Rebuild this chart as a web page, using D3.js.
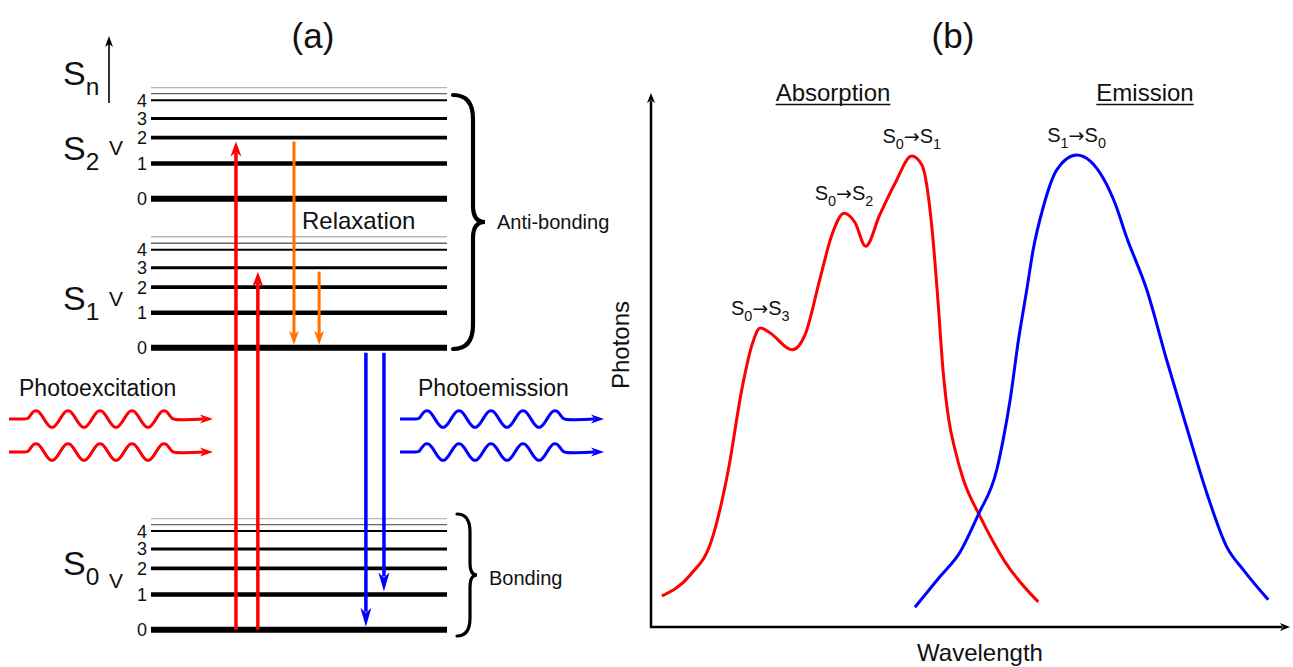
<!DOCTYPE html>
<html>
<head>
<meta charset="utf-8">
<script src="https://cdn.jsdelivr.net/npm/d3@7"></script>
<style>
body { margin: 0; background: #fff; }
text { font-family: "Liberation Sans", Arial, sans-serif; fill: #111; }
</style>
</head>
<body>
<script>
const width = 1293;
const height = 667;

// ---- panel (a): energy levels, arbitrary units (v = 0..4, then two faint higher levels)
const vibNumbers = [0, 1, 2, 3, 4];
const s0Levels = [0, 6.5, 11.3, 14.9, 18.2, 19.4, 20.5];
const s1Levels = [52.0, 58.5, 63.2, 66.8, 70.1, 71.3, 72.5];
const s2Levels = [79.5, 86.0, 90.8, 94.3, 97.7, 98.9, 100.0];
const stateSubs = ["0", "1", "2"];

// transitions: kind, horizontal position (0-100), from state, from v, to state, to v
const transitions = [
    ["absorb", 28.7, 0, 0, 2, 2],
    ["absorb", 36.1, 0, 0, 1, 3],
    ["relax", 48.3, 2, 2, 1, 0],
    ["relax", 56.8, 1, 3, 1, 0],
    ["emit", 72.6, 1, 0, 0, 0],
    ["emit", 78.7, 1, 0, 0, 1]
];

// ---- panel (b): spectra, wavelength and photons in arbitrary units 0-100
const absWavelength = [1.7, 6.1, 9.5, 12.1, 14.2, 15.8, 17.1, 18.6, 22.1, 24.1, 26.4, 28.3, 30.2, 31.9, 33.6, 35.8, 38.2, 40.8, 42.4, 44.0, 44.9, 45.7, 46.6, 47.6, 48.8, 51.5, 55.4, 60.6];
const absPhotons = [5.8, 9.7, 16.3, 29.4, 44.4, 52.8, 56.0, 55.1, 51.9, 54.7, 65.0, 73.4, 77.5, 75.8, 71.3, 77.2, 83.1, 88.2, 86.5, 74.3, 61.2, 48.1, 38.8, 33.1, 27.9, 20.7, 12.2, 4.7];
const emWavelength = [41.3, 45.2, 48.4, 51.2, 54.1, 55.1, 56.2, 57.5, 58.8, 59.8, 61.4, 63.5, 66.6, 68.7, 70.8, 72.6, 74.4, 77.6, 80.7, 83.8, 87.0, 90.1, 92.7, 96.6];
const emPhotons = [3.7, 9.4, 14.1, 21.0, 29.4, 35.0, 42.5, 53.7, 63.1, 70.6, 78.7, 85.6, 88.4, 87.3, 84.0, 79.4, 73.1, 63.1, 50.0, 37.5, 25.0, 15.0, 10.7, 5.1];

// peak labels: wavelength, photons, from state, to state
const peakLabels = [
    [17.1, 56.0, "0", "3"],
    [30.2, 77.5, "0", "2"],
    [40.8, 88.2, "0", "1"],
    [66.6, 88.4, "1", "0"]
];

const colors = { absorb: "#ff0000", relax: "#ff7000", emit: "#0000ff" };

const svg = d3.select("body").append("svg")
    .attr("width", width)
    .attr("height", height);

function arrowHead(g, x, y, angle, len, wid, color) {
    g.append("path")
        .attr("d", `M0,0L${-wid / 2},${-len}L0,${-len * 0.72}L${wid / 2},${-len}Z`)
        .attr("transform", `translate(${x},${y}) rotate(${angle})`)
        .style("fill", color);
}

// parts: [text, kind] with kind 0 = normal, 1 = subscript, 2 = arrow glyph
function subText(g, x, y, size, parts, anchor) {
    const t = g.append("text")
        .attr("x", x)
        .attr("y", y)
        .attr("text-anchor", anchor || "start")
        .style("font-size", size + "px");
    let shifted = false;
    parts.forEach(([s, kind]) => {
        const ts = t.append("tspan").text(s);
        if (kind === 1) {
            ts.attr("dy", size * 0.3).style("font-size", (size * 0.72) + "px");
            shifted = true;
        } else {
            if (shifted) { ts.attr("dy", -size * 0.3); shifted = false; }
            if (kind === 2) ts.style("font-family", "'DejaVu Sans'").style("font-size", (size * 0.95) + "px");
        }
    });
    return t;
}

// ================= panel (a) =================
const levels = [s0Levels, s1Levels, s2Levels];
const yE = d3.scaleLinear().domain([0, 100]).range([629.7, 87.7]);
const xA = d3.scaleLinear().domain([0, 100]).range([151, 447]);
const lineW = [6, 4.5, 3.7, 3, 2, 1.3, 1.3];
const lineC = ["#000", "#000", "#000", "#000", "#000", "#666", "#b8b8b8"];

const gA = svg.append("g");

gA.append("text")
    .attr("x", 313).attr("y", 48)
    .attr("text-anchor", "middle")
    .style("font-size", "35px")
    .text("(a)");

levels.forEach((lv, si) => {
    gA.selectAll(null)
        .data(lv)
        .enter().append("line")
        .attr("x1", xA(0)).attr("x2", xA(100))
        .attr("y1", d => yE(d)).attr("y2", d => yE(d))
        .style("stroke", (d, i) => lineC[i])
        .style("stroke-width", (d, i) => lineW[i]);

    gA.selectAll(null)
        .data(vibNumbers)
        .enter().append("text")
        .attr("x", xA(0) - 4)
        .attr("y", v => yE(lv[v]) + 6.5)
        .attr("text-anchor", "end")
        .style("font-size", "18px")
        .text(v => v);
});

// state labels S0, S1, S2 and the "V" marks
const stateLabelY = [575, 310, 160];
const vLabelY = [588, 306, 155];
stateSubs.forEach((s, i) => {
    subText(gA, 63, stateLabelY[i], 34, [["S", 0], [s, 1]]);
    gA.append("text")
        .attr("x", 109).attr("y", vLabelY[i])
        .style("font-size", "21px")
        .text("V");
});
subText(gA, 63, 85, 34, [["S", 0], ["n", 1]]);
gA.append("line")
    .attr("x1", 109).attr("x2", 109)
    .attr("y1", 103).attr("y2", 44)
    .style("stroke", "#000").style("stroke-width", 1.6);
arrowHead(gA, 109, 36, 180, 11, 8, "#000");

// vertical transition arrows
transitions.forEach(([kind, pos, fs, fv, ts, tv]) => {
    const x = xA(pos);
    const yFrom = yE(levels[fs][fv]);
    const yTo = yE(levels[ts][tv]);
    const up = yTo < yFrom;
    const len = kind === "emit" ? 19 : (kind === "relax" ? 14 : 15);
    const wid = kind === "relax" ? 10 : 11;
    const sw = kind === "relax" ? 3 : 3.5;
    const y1 = up ? yFrom : yFrom + (kind === "emit" ? 5 : 4);
    const tip = up ? yTo + 4 : yTo - 3;
    const dir = up ? -1 : 1;
    gA.append("line")
        .attr("x1", x).attr("x2", x)
        .attr("y1", y1).attr("y2", tip - dir * (len - 4))
        .style("stroke", colors[kind])
        .style("stroke-width", sw);
    arrowHead(gA, x, tip, up ? 180 : 0, len, wid, colors[kind]);
});

gA.append("text")
    .attr("x", 302).attr("y", 229)
    .style("font-size", "24px")
    .text("Relaxation");

// braces
function bracePath(x, y1, y2, a, w, r, rm) {
    const ym = (y1 + y2) / 2;
    return `M${x},${y1}Q${x + a},${y1} ${x + a},${y1 + r}` +
        `L${x + a},${ym - rm}Q${x + a},${ym} ${x + w},${ym}` +
        `Q${x + a},${ym} ${x + a},${ym + rm}` +
        `L${x + a},${y2 - r}Q${x + a},${y2} ${x},${y2}`;
}
gA.append("path")
    .attr("d", bracePath(453, 95, 349, 20, 32, 24, 16))
    .style("fill", "none").style("stroke", "#000")
    .style("stroke-width", 4.2).style("stroke-linecap", "round");
gA.append("path")
    .attr("d", bracePath(457, 514, 636, 13, 20, 18, 12))
    .style("fill", "none").style("stroke", "#000")
    .style("stroke-width", 3.2).style("stroke-linecap", "round");
gA.append("text")
    .attr("x", 497).attr("y", 229)
    .style("font-size", "20px")
    .text("Anti-bonding");
gA.append("text")
    .attr("x", 489).attr("y", 585)
    .style("font-size", "20px")
    .text("Bonding");

// wavy photons
function wave(g, x0, y, x1, color) {
    const P = 32, A = 8.5, xs = x0 + 19;
    const pts = [[x0, y], [xs - 4, y]];
    for (let t = 0; t <= 4.5 * P; t += 2) pts.push([xs + t, y - A * Math.sin(2 * Math.PI * t / P)]);
    pts.push([xs + 4.5 * P + 6, y + 1], [x1 - 10, y]);
    g.append("path")
        .attr("d", d3.line().curve(d3.curveBasis)(pts))
        .style("fill", "none")
        .style("stroke", color)
        .style("stroke-width", 3);
    arrowHead(g, x1, y, -90, 13, 9, color);
}
[419, 452].forEach(y => {
    wave(gA, 9, y, 213, colors.absorb);
    wave(gA, 400, y, 604, colors.emit);
});
gA.append("text")
    .attr("x", 19).attr("y", 396)
    .style("font-size", "23px")
    .text("Photoexcitation");
gA.append("text")
    .attr("x", 418).attr("y", 396)
    .style("font-size", "23px")
    .text("Photoemission");

// ================= panel (b) =================
const gB = svg.append("g");
const x = d3.scaleLinear().domain([0, 100]).range([651, 1290]);
const y = d3.scaleLinear().domain([0, 100]).range([627, 93]);

gB.append("text")
    .attr("x", 953).attr("y", 48)
    .attr("text-anchor", "middle")
    .style("font-size", "35px")
    .text("(b)");

gB.append("g")
    .attr("transform", `translate(0,${y(0)})`)
    .call(d3.axisBottom(x).tickValues([]).tickSizeOuter(0))
    .select(".domain").style("stroke", "#000").style("stroke-width", 2.5)
    .attr("d", `M${x(0) - 1},0H${x(100) - 8}`);
gB.append("g")
    .attr("transform", `translate(${x(0)},0)`)
    .call(d3.axisLeft(y).tickValues([]).tickSizeOuter(0))
    .select(".domain").style("stroke", "#000").style("stroke-width", 2.5)
    .attr("d", `M0,${y(0) + 1}V${y(100) + 8}`);
arrowHead(gB, x(100), y(0), -90, 10, 8, "#000");
arrowHead(gB, x(0), y(100), 180, 10, 8, "#000");

gB.append("text")
    .attr("transform", `translate(629,345) rotate(-90)`)
    .attr("text-anchor", "middle")
    .style("font-size", "24px")
    .text("Photons");
gB.append("text")
    .attr("x", 980).attr("y", 661)
    .attr("text-anchor", "middle")
    .style("font-size", "24px")
    .text("Wavelength");

const line = d3.line()
    .x(d => x(d[0]))
    .y(d => y(d[1]))
    .curve(d3.curveMonotoneX);

gB.append("path")
    .datum(d3.zip(absWavelength, absPhotons))
    .attr("d", line)
    .style("fill", "none")
    .style("stroke", colors.absorb)
    .style("stroke-width", 3);
gB.append("path")
    .datum(d3.zip(emWavelength, emPhotons))
    .attr("d", line)
    .style("fill", "none")
    .style("stroke", colors.emit)
    .style("stroke-width", 3);

peakLabels.forEach(([wl, ph, a, b]) => {
    subText(gB, x(wl), y(ph) - 13, 20, [["S", 0], [a, 1], ["\u2192", 2], ["S", 0], [b, 1]], "middle");
});

[["Absorption", 833], ["Emission", 1145]].forEach(([t, cx]) => {
    const tx = gB.append("text")
        .attr("x", cx).attr("y", 101)
        .attr("text-anchor", "middle")
        .style("font-size", "24px")
        .text(t);
    const w = tx.node().getComputedTextLength();
    gB.append("line")
        .attr("x1", cx - w / 2).attr("x2", cx + w / 2)
        .attr("y1", 104.5).attr("y2", 104.5)
        .style("stroke", "#111").style("stroke-width", 1.6);
});
</script>
</body>
</html>
